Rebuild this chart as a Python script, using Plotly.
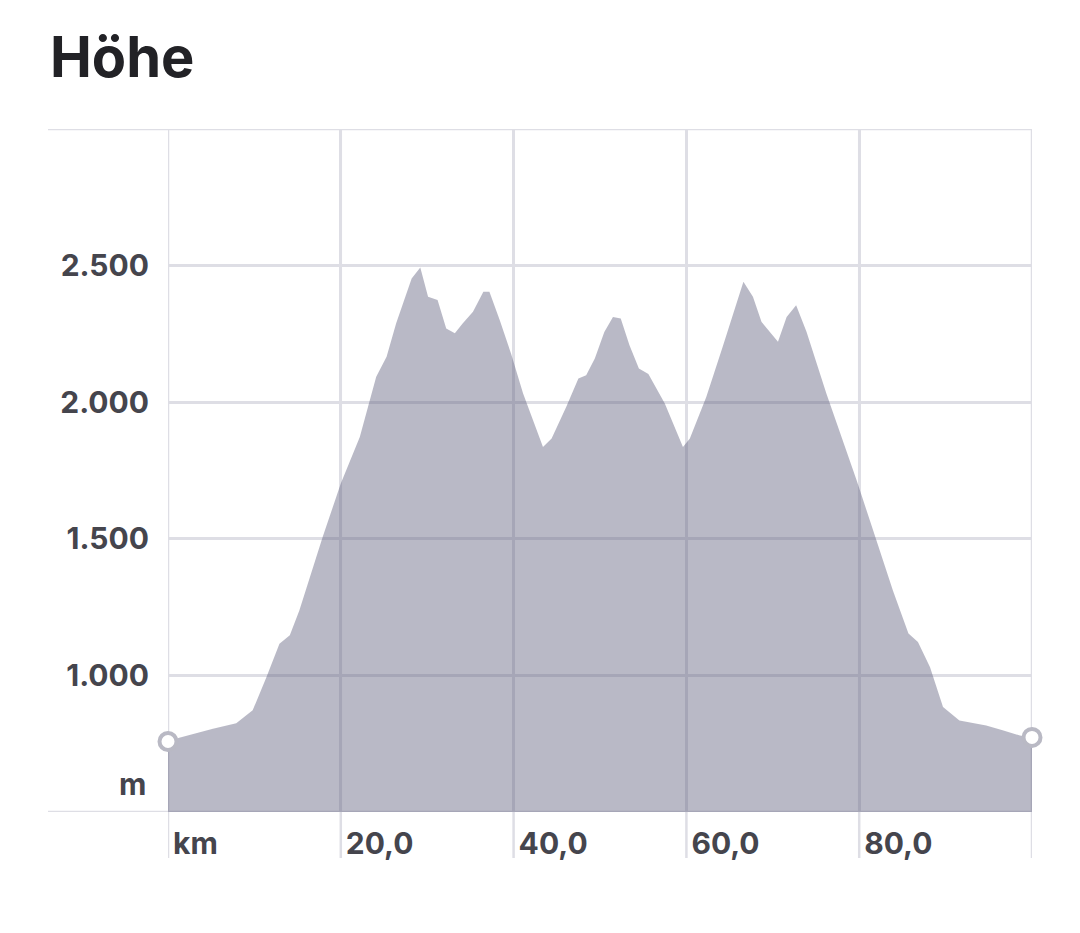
import plotly.graph_objects as go

# ---- data ----
km = [0, 1.3, 5.2, 7.9, 9.8, 11.4, 12.9, 14.1, 15.2, 17.9, 20.0, 22.2, 24.1, 25.3,
      26.4, 28.2, 29.2, 30.1, 31.2, 32.2, 33.2, 34.1, 35.3, 36.5, 37.2, 38.4, 39.7,
      41.1, 43.4, 44.4, 46.1, 47.5, 48.4, 49.4, 50.5, 51.5, 52.4, 53.4, 54.5, 55.6,
      57.5, 59.6, 60.4, 62.3, 64.2, 66.6, 67.7, 68.7, 70.6, 71.6, 72.7, 73.9, 76.2,
      79.7, 82.0, 83.9, 85.7, 86.8, 88.2, 89.7, 91.6, 94.7, 96.6, 98.6, 100]
elev = [758, 772, 805, 825, 872, 994, 1116, 1147, 1238, 1507, 1702, 1873, 2093, 2166,
        2288, 2453, 2493, 2386, 2374, 2270, 2252, 2288, 2331, 2404, 2404, 2300, 2178,
        2032, 1836, 1867, 1983, 2087, 2099, 2160, 2257, 2312, 2306, 2209, 2123, 2103,
        1995, 1836, 1867, 2019, 2203, 2441, 2386, 2294, 2221, 2312, 2355, 2258, 2032,
        1714, 1494, 1311, 1153, 1122, 1030, 884, 835, 817, 799, 780, 773]

x_ticks = [0, 20, 40, 60, 80, 100]
x_labels = ["km", "20,0", "40,0", "60,0", "80,0", ""]
y_ticks = [500, 1000, 1500, 2000, 2500, 3000]
y_labels = ["", "1.000", "1.500", "2.000", "2.500", ""]
y_unit = "m"
title = "Höhe"

GRID = "#dedee5"
TXT = "#45454d"
FONT = "Inter"
GW = 2.5

W, H = 1064, 917
L, R, T, B = 160, 40, 121, 113

fig = go.Figure()
fig.add_trace(go.Scatter(
    x=km, y=elev, mode="lines", fill="tozeroy",
    line=dict(width=0, color="rgba(88,88,120,0.42)"),
    fillcolor="rgba(88,88,120,0.42)", hoverinfo="skip", showlegend=False))
fig.add_trace(go.Scatter(
    x=[km[0], km[-1]], y=[elev[0], elev[-1]], mode="markers",
    marker=dict(size=17, color="white", line=dict(color="#b9b9c4", width=4)),
    cliponaxis=False, showlegend=False, hoverinfo="skip"))

pw = W - L - R
ph = H - T - B
shapes = []
# vertical grid lines, extended below the plot
for v in x_ticks:
    shapes.append(dict(type="line", xref="x", yref="paper", x0=v, x1=v,
                       y0=-46 / ph, y1=1, line=dict(color=GRID, width=GW), layer="below"))
# top & bottom horizontal lines extend to the left
for v in (y_ticks[0], y_ticks[-1]):
    shapes.append(dict(type="line", xref="paper", yref="y", x0=-120 / pw, x1=1,
                       y0=v, y1=v, line=dict(color=GRID, width=GW), layer="below"))

fig.update_layout(
    width=W, height=H,
    margin=dict(l=L, r=R, t=T, b=B),
    paper_bgcolor="white", plot_bgcolor="white",
    font=dict(family=FONT, color=TXT),
    title=dict(text="<b>" + title + "</b>", x=42 / W, xanchor="left",
               xref="container", yref="container", y=1 - 49 / H, yanchor="middle",
               font=dict(family=FONT, size=56, color="#222226")),
    shapes=shapes,
    annotations=[dict(text="<b>" + y_unit + "</b>", xref="paper", yref="y",
                      x=-20 / pw, y=604, xanchor="right", yanchor="middle",
                      showarrow=False, font=dict(family=FONT, size=30, color=TXT))],
    xaxis=dict(range=[0, 100], tickvals=x_ticks,
               ticktext=["<b>" + t + "</b>" if t else "" for t in x_labels],
               showgrid=True, gridcolor=GRID, gridwidth=GW, zeroline=False,
               showline=False, ticks="", ticklabelposition="outside right",
               ticklabelshift=5, ticklabelstandoff=11,
               tickfont=dict(family=FONT, size=30, color=TXT), fixedrange=True),
    yaxis=dict(range=[500, 3000], tickvals=y_ticks,
               ticktext=["<b>" + t + "</b>" if t else "" for t in y_labels],
               showgrid=True, gridcolor=GRID, gridwidth=GW, zeroline=False,
               showline=False, ticks="", ticklabelstandoff=18,
               tickfont=dict(family=FONT, size=30, color=TXT), fixedrange=True),
)

fig.write_html("out.html")
